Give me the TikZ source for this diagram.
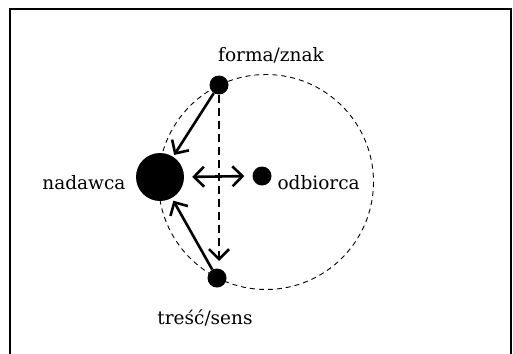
\documentclass[tikz,border=0pt]{standalone}
\usepackage{fontspec}
\setmainfont{DejaVu Serif}
\usetikzlibrary{arrows.meta}
\begin{document}
\begin{tikzpicture}[x=1pt,y=-1pt,
  dot/.style={circle,fill=black,inner sep=0pt,minimum size=#1},
  lbl/.style={font=\fontsize{18.5}{22}\selectfont},
  tip/.tip={Straight Barb[length=10pt,width=20pt,line width=2.6pt]},
  arr/.style={line width=2.6pt,-tip},
  darr/.style={line width=2.6pt,tip-tip},
  ]
\useasboundingbox (0,0) rectangle (513,353);
\begin{scope}
\clip (0,0) rectangle (513,353);
\draw[line width=2pt] (9.5,9.5) rectangle (511,360);
\end{scope}
\draw[dashed,line width=0.9pt,dash pattern=on 5pt off 4pt] (266,182) circle (107.5);
\node[dot=19pt] (forma) at (219,85) {};
\node[dot=48pt] (nad) at (160,177) {};
\node[dot=19pt] (odb) at (262,176) {};
\node[dot=19pt] (tresc) at (217,278) {};
\node[lbl] (lf) at (271,55) {forma/znak};
\node[lbl,anchor=east] (ln) at (129,183) {nadawca};
\node[lbl,anchor=west] (lo) at (274,183) {odbiorca};
\node[lbl] (lt) at (205,318) {treść/sens};
\draw[arr,shorten >=2pt] (forma) -- (nad);
\draw[arr,shorten >=3pt] (tresc) -- (nad);
\draw[darr,shorten <=8pt,shorten >=8pt] (nad.east) -- (odb.west);
\draw[arr,dashed,dash pattern=on 8pt off 5pt,shorten >=17pt] (forma) -- (forma |- tresc);
\end{tikzpicture}
\end{document}
